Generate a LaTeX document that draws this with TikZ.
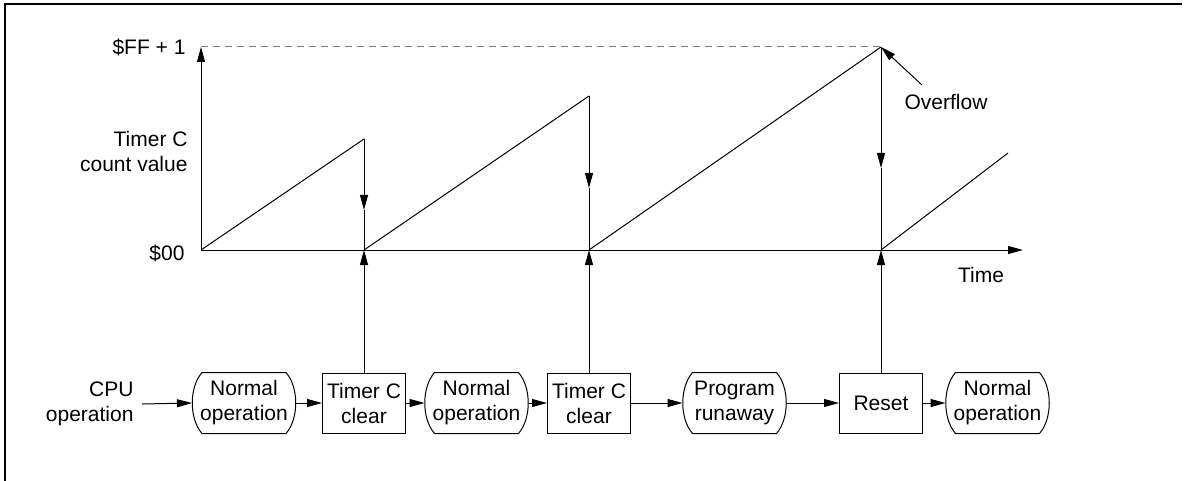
\documentclass[tikz,border=0pt]{standalone}
\usepackage{fontspec}
\setmainfont{Liberation Sans}
\usetikzlibrary{arrows.meta,calc}
\begin{document}
\begin{tikzpicture}[x=1pt,y=-1pt,line width=1pt,
  tip/.style={-{Triangle[length=15pt,width=8pt]}},
  txt/.style={font=\fontsize{21}{25}\selectfont,inner sep=0pt},
  boxnode/.style={draw,minimum width=83pt,minimum height=60pt,align=center,inner sep=0pt,font=\fontsize{21}{25}\selectfont},
  termnode/.style={minimum width=103pt,minimum height=60pt,align=center,inner sep=0pt,font=\fontsize{21}{25}\selectfont},
  dashline/.style={gray,dash pattern=on 7pt off 5pt}]
\useasboundingbox (0,0) rectangle (1186,481);
\draw[line width=1.2pt] (5,481) -- (5,4) -- (1182,4);

% axes
\coordinate (o) at (201,250);
\coordinate (ytop) at (201,47);
\coordinate (xend) at (1023,250);
\draw[tip] (o) -- (ytop);
\draw[tip] (o) -- (xend);

% labels
\node[txt,anchor=east] (lff) at (186,47) {\$FF + 1};
\node[txt,anchor=east,align=right] (lcnt) at (188,151) {Timer C\\count value};
\node[txt,anchor=east] (l00) at (185,253) {\$00};
\node[txt] (ltime) at (981,275) {Time};
\node[txt] (ov) at (946,102) {Overflow};

% bottom flow
\node[txt,anchor=east,align=right] (cpu) at (134,404) {CPU\\operation};
\node[termnode] (n1) at (244,403) {Normal\\operation};
\node[boxnode] (box1) at (364,403) {Timer C\\clear};
\node[termnode] (n2) at (476.5,403) {Normal\\operation};
\node[boxnode] (box2) at (589,403) {Timer C\\clear};
\node[termnode] (prog) at (734.5,403) {Program\\runaway};
\node[boxnode] (reset) at (881,403) {Reset};
\node[termnode] (n3) at (997.5,403) {Normal\\operation};

\foreach \n in {n1,n2,prog,n3}
  \draw ($(\n.north west)+(10,0)$) -- ($(\n.north east)+(-10,0)$)
    .. controls +(13,15) and +(13,-15) .. ($(\n.south east)+(-10,0)$)
    -- ($(\n.south west)+(10,0)$)
    .. controls +(-13,-15) and +(-13,15) .. cycle;

\draw[tip] (cpu.east -| 142,0) -- (n1.west);
\draw[tip] (n1.east) -- (box1.west);
\draw[tip] (box1.east) -- (n2.west);
\draw[tip] (n2.east) -- (box2.west);
\draw[tip] (box2.east) -- (prog.west);
\draw[tip] (prog.east) -- (reset.west);
\draw[tip] (reset.east) -- (n3.west);

% sawtooth
\coordinate (b1) at (box1.north |- o);
\coordinate (b2) at (box2.north |- o);
\coordinate (b3) at (reset.north |- o);
\coordinate (p1) at ($(b1)+(0,-111)$);
\coordinate (p2) at ($(b2)+(0,-154)$);
\coordinate (p3) at (b3 |- ytop);
\coordinate (m1) at ($(b1)+(0,-40)$);
\coordinate (m2) at ($(b2)+(0,-62)$);
\coordinate (m3) at ($(b3)+(0,-82)$);
\coordinate (e4) at (1008,153);

\draw[dashline] (ytop) -- (p3);
\draw (o) -- (p1);
\draw (b1) -- (p2);
\draw (b2) -- (p3);
\draw (b3) -- (e4);
\draw[tip] (p1) -- (m1);
\draw (m1) -- (b1);
\draw[tip] (p2) -- (m2);
\draw (m2) -- (b2);
\draw[tip] (p3) -- (m3);
\draw (m3) -- (b3);

\draw[tip] (box1.north) -- (b1);
\draw[tip] (box2.north) -- (b2);
\draw[tip] (reset.north) -- (b3);

\coordinate (ovs) at (922,85);
\draw[tip] (ovs) -- (p3);
\end{tikzpicture}
\end{document}
